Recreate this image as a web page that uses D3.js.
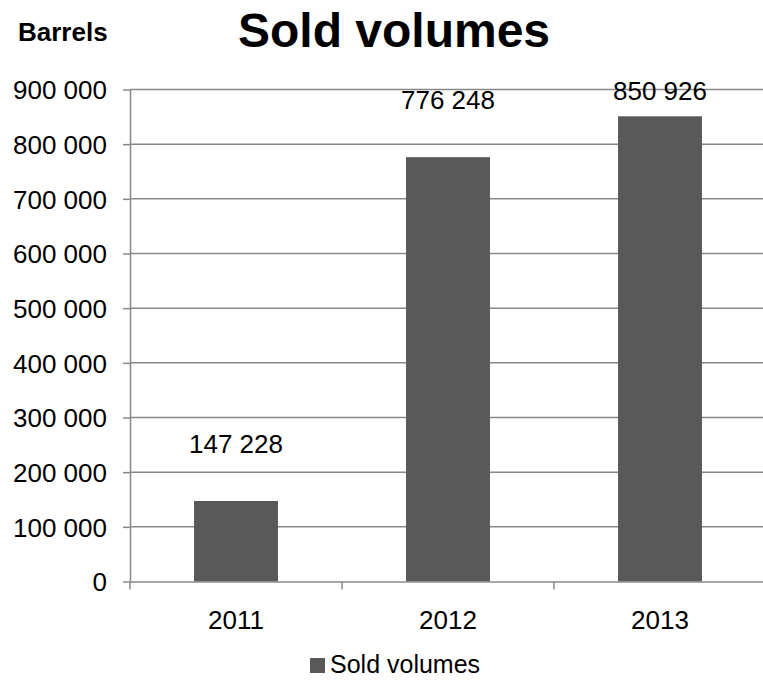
<!DOCTYPE html>
<html>
<head>
<meta charset="utf-8">
<script src="https://cdn.jsdelivr.net/npm/d3@7"></script>
<style>
  body { margin: 0; background: #fff; }
  svg { display: block; font-family: "Liberation Sans", Arial, sans-serif; }
</style>
</head>
<body>
<svg id="chart" width="763" height="680"></svg>
<script>
// data
const years = ["2011", "2012", "2013"];
const soldVolumes = [147228, 776248, 850926];
const yTicks = [0, 100000, 200000, 300000, 400000, 500000, 600000, 700000, 800000, 900000];

const svg = d3.select("#chart");
const gridColor = "#888888";
const barColor = "#595959";

let plotLeft = 130, plotRight = 766, plotTop = 89.5, plotBottom = 581.5;

let x = d3.scaleBand()
    .domain(years)
    .range([plotLeft, plotRight])
    .paddingInner(0.604)
    .paddingOuter(0.302);

let y = d3.scaleLinear()
    .domain([0, 900000])
    .range([plotBottom, plotTop]);

// space as thousands separator
let fmt = v => d3.format(",")(v).replace(/,/g, " ");

// gridlines
svg.append("g")
    .selectAll("line")
    .data(yTicks.filter(d => d > 0))
    .join("line")
    .attr("x1", plotLeft).attr("x2", plotRight)
    .attr("y1", d => y(d)).attr("y2", d => y(d))
    .attr("stroke", gridColor)
    .attr("stroke-width", 1.5);

// bars
svg.append("g")
    .selectAll("rect")
    .data(soldVolumes)
    .join("rect")
    .attr("x", (d, i) => x(years[i]))
    .attr("y", d => y(d))
    .attr("width", x.bandwidth())
    .attr("height", d => y(0) - y(d))
    .attr("fill", barColor);

// y axis
let yAxis = svg.append("g")
    .attr("transform", `translate(${plotLeft},0)`)
    .call(d3.axisLeft(y).tickValues(yTicks).tickFormat(fmt).tickSize(7).tickPadding(16).tickSizeOuter(0));

// x axis, ticks on band boundaries
let xAxis = svg.append("g")
    .attr("transform", `translate(0,${plotBottom})`)
    .call(d3.axisBottom(x).tickSize(0).tickPadding(29).tickSizeOuter(0));

let bounds = [plotLeft].concat(years.slice(1).map(d => x(d) - x.step() * x.paddingInner() / 2));
xAxis.selectAll(".bound")
    .data(bounds)
    .join("line")
    .attr("class", "bound")
    .attr("x1", d => d).attr("x2", d => d)
    .attr("y1", 0).attr("y2", 8);

[yAxis, xAxis].forEach(a => {
    a.selectAll("path, line").attr("stroke", gridColor).attr("stroke-width", 1.5);
    a.selectAll("text").attr("fill", "#000").style("font-size", "26px");
});
yAxis.selectAll("text").attr("dy", "0.36em");

// value labels
svg.append("g")
    .selectAll("text")
    .data(soldVolumes)
    .join("text")
    .attr("x", (d, i) => x(years[i]) + x.bandwidth() / 2)
    .attr("y", d => Math.max(y(d) - 48, y(900000) + 10))
    .attr("text-anchor", "middle")
    .style("font-size", "26px")
    .text(fmt);

// title + unit
svg.append("text")
    .attr("x", 394).attr("y", 47)
    .attr("text-anchor", "middle")
    .style("font-size", "48px").style("font-weight", "bold")
    .text("Sold volumes");

svg.append("text")
    .attr("x", 18).attr("y", 41)
    .style("font-size", "26px").style("font-weight", "bold")
    .text("Barrels");

// legend
let legend = svg.append("g").attr("transform", "translate(310,658)");
legend.append("rect")
    .attr("width", 15).attr("height", 15)
    .attr("fill", barColor);
legend.append("text")
    .attr("x", 20).attr("y", 15)
    .style("font-size", "25px")
    .text("Sold volumes");
</script>
</body>
</html>
